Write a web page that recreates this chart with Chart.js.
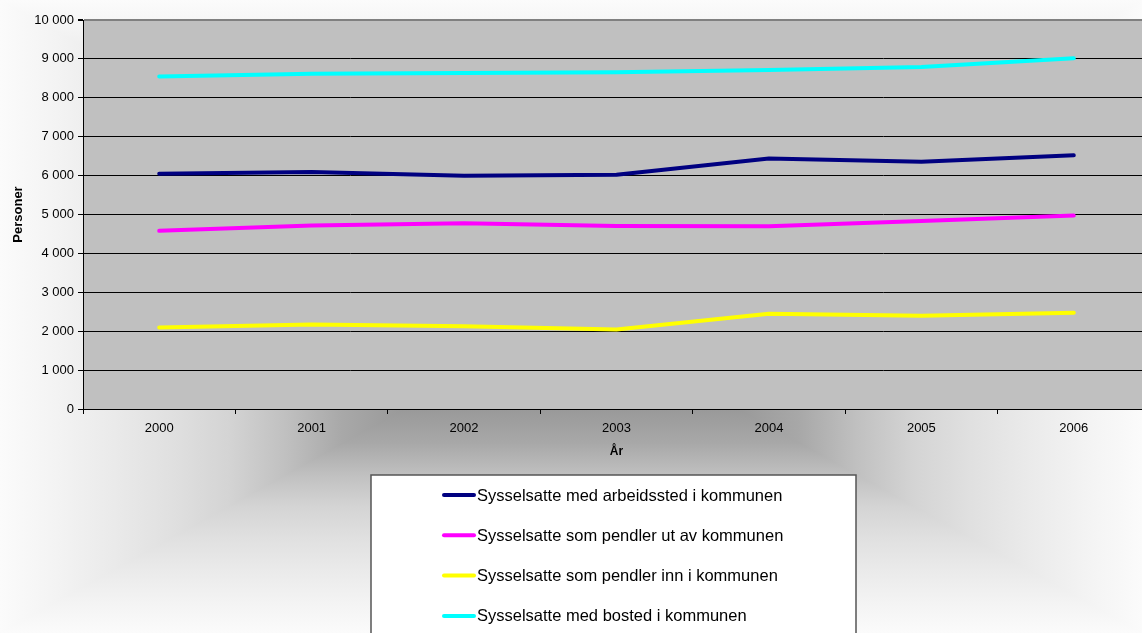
<script src="https://cdn.jsdelivr.net/npm/chart.js@4.4.1/dist/chart.umd.min.js"></script>
<style>
  body {
    margin: 0;
    overflow: hidden;
    background: #fff;
  }
</style>

<canvas id="line-chart" width="1160" height="633"></canvas>

<script>
// data
const years = ['2000', '2001', '2002', '2003', '2004', '2005', '2006'];
const arbeidssted = [6045, 6090, 5995, 6020, 6440, 6355, 6520];
const pendlerUt = [4580, 4720, 4775, 4705, 4700, 4835, 4975];
const pendlerInn = [2095, 2170, 2130, 2045, 2450, 2400, 2475];
const bosted = [8550, 8620, 8635, 8660, 8715, 8790, 9015];

const seriesNames = [
  'Sysselsatte med arbeidssted i kommunen',
  'Sysselsatte som pendler ut av kommunen',
  'Sysselsatte som pendler inn i kommunen',
  'Sysselsatte med bosted i kommunen'
];
const seriesColors = ['#000080', '#ff00ff', '#ffff00', '#00ffff'];

const FONT = "'Liberation Sans', Arial, sans-serif";

function spaced(v) {
  return String(v).replace(/\B(?=(\d{3})+(?!\d))/g, ' ');
}

// rectangular "from center" gradient behind everything, then the grey plot area
const backdrop = {
  id: 'backdrop',
  beforeDraw(chart) {
    const ctx = chart.ctx;
    const W = 1142, H = 633;
    const cx = W / 2, cy = H / 2;
    const stops = [[0, '#8c8c8c'], [0.3, '#9a9a9a'], [0.4, '#a8a8a8'], [0.5, '#c0c0c0'],
                   [0.6, '#d4d4d4'], [0.7, '#e0e0e0'], [0.8, '#eaeaea'], [0.9, '#f3f3f3'], [1, '#fbfbfb']];
    const tris = [
      [[0, 0], [W, 0], [cx, 0]],
      [[W, 0], [W, H], [W, cy]],
      [[W, H], [0, H], [cx, H]],
      [[0, H], [0, 0], [0, cy]]
    ];
    ctx.save();
    ctx.fillStyle = '#fbfbfb';
    ctx.fillRect(0, 0, chart.width, H);
    tris.forEach(t => {
      const g = ctx.createLinearGradient(cx, cy, t[2][0], t[2][1]);
      stops.forEach(s => g.addColorStop(s[0], s[1]));
      ctx.beginPath();
      ctx.moveTo(cx, cy);
      ctx.lineTo(t[0][0], t[0][1]);
      ctx.lineTo(t[1][0], t[1][1]);
      ctx.closePath();
      ctx.fillStyle = g;
      ctx.fill();
      ctx.strokeStyle = g;
      ctx.lineWidth = 1.5;
      ctx.stroke();
    });
    const a = chart.chartArea;
    ctx.fillStyle = '#c0c0c0';
    ctx.fillRect(a.left, a.top, a.right - a.left, a.bottom - a.top);
    ctx.restore();
  }
};

// Excel style legend box, one entry per row
const boxLegend = {
  id: 'boxLegend',
  afterDraw(chart) {
    const ctx = chart.ctx;
    ctx.save();
    ctx.fillStyle = '#ffffff';
    ctx.fillRect(371, 475, 485, 200);
    ctx.strokeStyle = '#555555';
    ctx.lineWidth = 1.5;
    ctx.strokeRect(371, 475, 485, 200);
    ctx.font = '16.5px ' + FONT;
    ctx.textBaseline = 'middle';
    ctx.textAlign = 'left';
    chart.data.datasets.forEach((ds, i) => {
      const y = 495 + i * 40.3;
      ctx.strokeStyle = ds.borderColor;
      ctx.lineWidth = 4;
      ctx.lineCap = 'round';
      ctx.beginPath();
      ctx.moveTo(444, y);
      ctx.lineTo(474, y);
      ctx.stroke();
      ctx.fillStyle = '#000';
      ctx.fillText(ds.label, 477, y + 1);
    });
    ctx.restore();
  }
};

const datasets = [arbeidssted, pendlerUt, pendlerInn, bosted].map((vals, i) => ({
  label: seriesNames[i],
  data: vals,
  borderColor: seriesColors[i],
  backgroundColor: seriesColors[i],
  borderWidth: 4,
  borderCapStyle: 'round',
  borderJoinStyle: 'round',
  pointRadius: 0,
  tension: 0,
  fill: false
}));

new Chart(document.getElementById('line-chart'), {
  type: 'line',
  data: { labels: years, datasets: datasets },
  options: {
    responsive: false,
    animation: false,
    layout: { padding: { left: 0, right: 10, top: 20, bottom: 0 } },
    plugins: {
      legend: { display: false },
      tooltip: { enabled: false }
    },
    scales: {
      x: {
        type: 'category',
        offset: true,
        afterFit(scale) { scale.height = 224; },
        grid: {
          offset: true,
          drawOnChartArea: false,
          drawTicks: true,
          tickLength: 5,
          color: '#000'
        },
        border: { display: true, color: '#000', width: 1 },
        ticks: { color: '#000', font: { family: FONT, size: 13 }, padding: 7, maxRotation: 0 },
        title: {
          display: true,
          text: 'År',
          color: '#000',
          font: { family: FONT, size: 12, weight: 'bold' },
          padding: { top: 0, bottom: 174 }
        }
      },
      y: {
        min: 0,
        max: 10000,
        afterFit(scale) { scale.width = 83; },
        grid: {
          color: c => (c.tick && c.tick.value === 10000) ? '#808080' : '#000',
          lineWidth: c => (c.tick && c.tick.value === 10000) ? 2 : 1,
          drawTicks: true,
          tickLength: 5,
          tickColor: '#000'
        },
        border: { display: true, color: '#000', width: 1 },
        ticks: {
          stepSize: 1000,
          color: '#000',
          padding: 4,
          font: { family: FONT, size: 13 },
          callback: v => spaced(v)
        },
        title: {
          display: true,
          text: 'Personer',
          color: '#000',
          font: { family: FONT, size: 13, weight: 'bold' },
          padding: { top: 11, bottom: 0 }
        }
      }
    }
  },
  plugins: [backdrop, boxLegend]
});
</script>
